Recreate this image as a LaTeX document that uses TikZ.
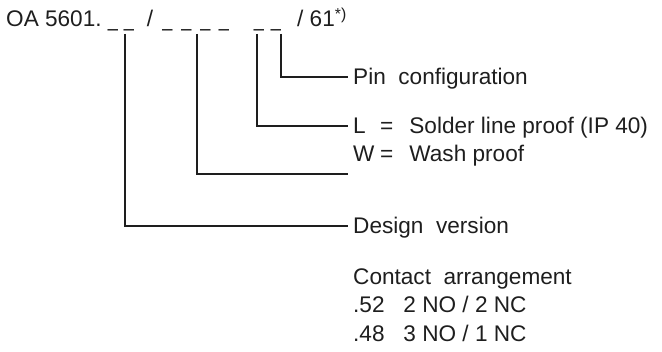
\documentclass[tikz,border=0pt]{standalone}
\usepackage{fontspec}
\setmainfont{Liberation Sans}
\definecolor{ink}{HTML}{1E1E1E}
\begin{document}
\begin{tikzpicture}[x=1pt,y=-1pt,
  ttl/.style={anchor=base west, inner sep=0pt, text=ink, font=\fontsize{22.6}{27}\selectfont},
  dsh/.style={anchor=base, inner sep=0pt, text=ink, font=\fontsize{22.6}{27}\selectfont},
  lbl/.style={anchor=west, inner xsep=5pt, inner ysep=0pt, text height=16pt, text depth=0pt,
              text=ink, font=\fontsize{22.6}{27}\selectfont},
  conn/.style={line width=1.1pt, ink}]
\useasboundingbox (0,0) rectangle (662,352);
% title
\node[ttl] (oa) at (6,27) {OA 5601.};
\node[dsh] (d1) at (113,27) {\scalebox{0.8}[1]{\_}};
\node[dsh] (d2) at (129,27) {\scalebox{0.8}[1]{\_}};
\node[dsh] (s1) at (150,27) {/};
\node[dsh] (d3) at (167.5,27) {\scalebox{0.8}[1]{\_}};
\node[dsh] (d4) at (186.5,27) {\scalebox{0.8}[1]{\_}};
\node[dsh] (d5) at (205.5,27) {\scalebox{0.8}[1]{\_}};
\node[dsh] (d6) at (224,27) {\scalebox{0.8}[1]{\_}};
\node[dsh] (d7) at (259,27) {\scalebox{0.8}[1]{\_}};
\node[dsh] (d8) at (276,27) {\scalebox{0.8}[1]{\_}};
\node[ttl] (tail) at (297,27) {/ 61\textsuperscript{*)}};
% line tops
\coordinate (t1) at (125,34);
\coordinate (t2) at (197,34);
\coordinate (t3) at (257,34);
\coordinate (t4) at (281,34);
% labels
\node[lbl] (pin) at (348,77) {Pin\ \ configuration};
\node[lbl] (sol) at (348,126) {\makebox[27pt][l]{L}=\hspace{16pt}Solder line proof (IP 40)};
\node[lbl] (wash) at (348,154) {\makebox[27pt][l]{W}=\hspace{16pt}Wash proof};
\coordinate (e3) at (348,174);
\node[lbl] (des) at (348,226) {Design\ \ version};
\node[lbl] (con) at (348,277) {Contact\ \ arrangement};
\node[lbl] (c52) at (348,305) {.52\ \ \ 2 NO / 2 NC};
\node[lbl] (c48) at (348,334) {.48\ \ \ 3 NO / 1 NC};
% connectors
\draw[conn] (t4) |- (pin.west);
\draw[conn] (t3) |- (sol.west);
\draw[conn] (t2) |- (e3);
\draw[conn] (t1) |- (des.west);
\end{tikzpicture}
\end{document}
